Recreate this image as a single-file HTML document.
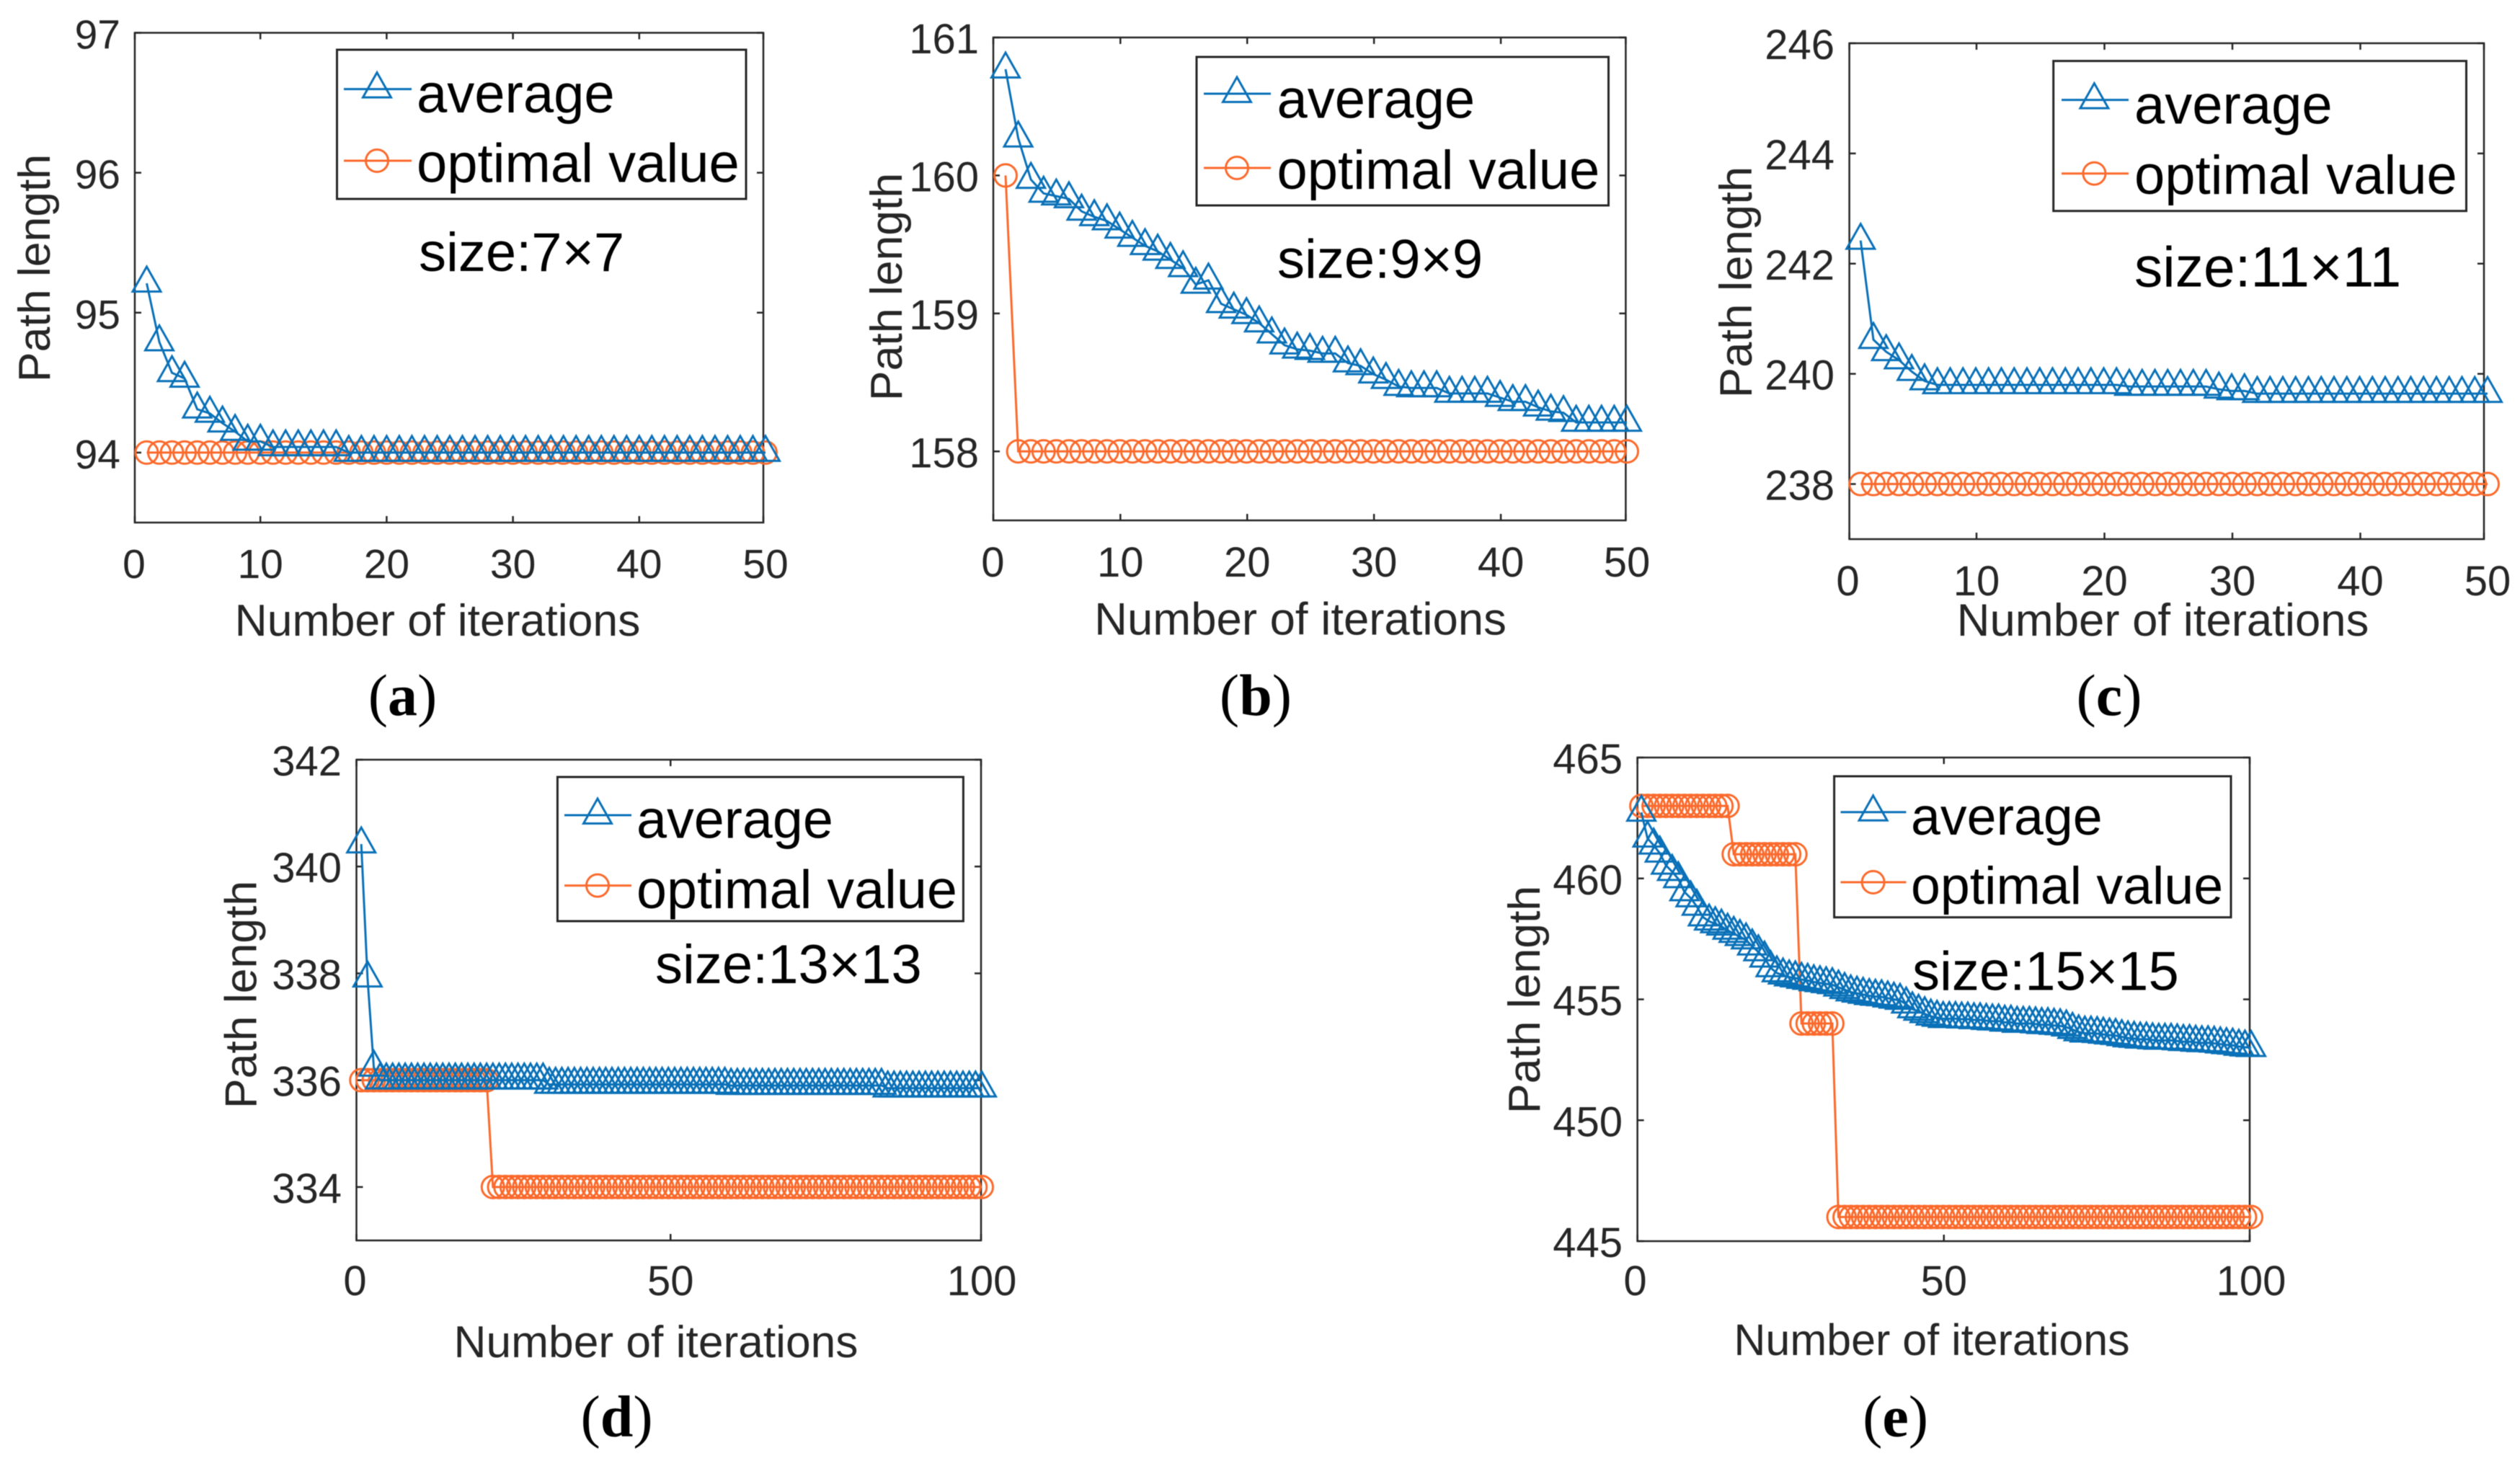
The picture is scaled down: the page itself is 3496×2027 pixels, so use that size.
<!DOCTYPE html>
<html lang="en">
<head>
<meta charset="utf-8">
<title>Path length versus number of iterations</title>
<style>
html,body{margin:0;padding:0;background:#fff;}
svg{display:block;filter:blur(0.6px);}
text{font-family:"Liberation Sans",Arial,sans-serif;}
.title{font-size:62.5px;fill:#262626;}
.leg{font-size:76px;fill:#000;}
.cap{font-family:"Liberation Serif",serif;font-size:82px;fill:#000;text-anchor:middle;}
.cap tspan{font-weight:bold;}
.box{fill:#fff;stroke:#262626;stroke-width:3;}
.blue{fill:none;stroke:#0a71b8;stroke-width:3;}
.orange{fill:none;stroke:#fb6a2c;stroke-width:3;}
</style>
</head>
<body>
<svg id="figure" xmlns="http://www.w3.org/2000/svg" width="3496" height="2027" viewBox="0 0 3496 2027">
<rect width="3496" height="2027" fill="#fff"/>

<g id="panel-a">
  <g class="plot"></g>
  <text class="title" x="607" y="882" text-anchor="middle">Number of iterations</text>
  <text class="title" text-anchor="middle" transform="translate(69 372) rotate(-90)">Path length</text>
  <g>
    <rect class="box" x="467.5" y="69" width="567.5" height="207"/>
    <line class="blue" x1="477" x2="571" y1="123.6" y2="123.6"/>
    <polygon class="blue" points="523,100.6 542.5,135.1 503.5,135.1"/>
    <text class="leg" x="578" y="156">average</text>
    <line class="orange" x1="477" x2="571" y1="223" y2="223"/>
    <circle class="orange" cx="523" cy="223" r="15.5"/>
    <text class="leg" x="578" y="252.5">optimal value</text>
  </g>
  <text class="leg" x="581" y="376">size:7×7</text>
  <text class="cap" x="558.5" y="992">(<tspan>a</tspan>)</text>
</g>

<g id="panel-b">
  <g class="plot"></g>
  <text class="title" x="1804" y="880.5" text-anchor="middle" style="font-size:63.5px">Number of iterations</text>
  <text class="title" text-anchor="middle" transform="translate(1251 398) rotate(-90)">Path length</text>
  <g>
    <rect class="box" x="1660" y="79" width="571.5" height="206"/>
    <line class="blue" x1="1670" x2="1763" y1="130" y2="130"/>
    <polygon class="blue" points="1716,107 1735.5,141.5 1696.5,141.5"/>
    <text class="leg" x="1771.5" y="163.5">average</text>
    <line class="orange" x1="1670" x2="1763" y1="233" y2="233"/>
    <circle class="orange" cx="1716" cy="233" r="15.5"/>
    <text class="leg" x="1771.5" y="262">optimal value</text>
  </g>
  <text class="leg" x="1772" y="385.5">size:9×9</text>
  <text class="cap" x="1742" y="992">(<tspan>b</tspan>)</text>
</g>

<g id="panel-c">
  <g class="plot"></g>
  <text class="title" x="3000.5" y="882" text-anchor="middle" style="font-size:63.5px">Number of iterations</text>
  <text class="title" text-anchor="middle" transform="translate(2430 391.6) rotate(-90)" style="font-size:63.5px">Path length</text>
  <g>
    <rect class="box" x="2848.7" y="84.6" width="572.8" height="208.1"/>
    <line class="blue" x1="2860" x2="2953" y1="138.6" y2="138.6"/>
    <polygon class="blue" points="2905.4,115.6 2924.9,150.1 2885.9,150.1"/>
    <text class="leg" x="2961" y="171.5">average</text>
    <line class="orange" x1="2860" x2="2953" y1="240.7" y2="240.7"/>
    <circle class="orange" cx="2905.4" cy="240.7" r="15.5"/>
    <text class="leg" x="2961" y="269">optimal value</text>
  </g>
  <text class="leg" x="2961" y="397.5" style="font-size:78.5px">size:11×11</text>
  <text class="cap" x="2926" y="992">(<tspan>c</tspan>)</text>
</g>

<g id="panel-d">
  <g class="plot"></g>
  <text class="title" x="910" y="1883" text-anchor="middle" style="font-size:62.3px">Number of iterations</text>
  <text class="title" text-anchor="middle" transform="translate(355.5 1380) rotate(-90)">Path length</text>
  <g>
    <rect class="box" x="773.4" y="1078" width="563" height="200"/>
    <line class="blue" x1="783" x2="876" y1="1131" y2="1131"/>
    <polygon class="blue" points="829,1108 848.5,1142.5 809.5,1142.5"/>
    <text class="leg" x="883" y="1162.5" style="font-size:75.5px">average</text>
    <line class="orange" x1="783" x2="876" y1="1228.6" y2="1228.6"/>
    <circle class="orange" cx="829" cy="1228.6" r="15.5"/>
    <text class="leg" x="883" y="1260" style="font-size:75.5px">optimal value</text>
  </g>
  <text class="leg" x="909" y="1364">size:13×13</text>
  <text class="cap" x="855.6" y="1992.6">(<tspan>d</tspan>)</text>
</g>

<g id="panel-e">
  <g class="plot"></g>
  <text class="title" x="2680" y="1880" text-anchor="middle" style="font-size:61px">Number of iterations</text>
  <text class="title" text-anchor="middle" transform="translate(2136 1387) rotate(-90)">Path length</text>
  <g>
    <rect class="box" x="2544.6" y="1077" width="550.4" height="195.7"/>
    <line class="blue" x1="2553.5" x2="2644.4" y1="1126.7" y2="1126.7"/>
    <polygon class="blue" points="2598.6,1103.7 2618.1,1138.2 2579.1,1138.2"/>
    <text class="leg" x="2651" y="1158" style="font-size:73.5px">average</text>
    <line class="orange" x1="2553.5" x2="2644.4" y1="1224" y2="1224"/>
    <circle class="orange" cx="2598.6" cy="1224" r="15.5"/>
    <text class="leg" x="2651" y="1254" style="font-size:73.5px">optimal value</text>
  </g>
  <text class="leg" x="2653" y="1373.5">size:15×15</text>
  <text class="cap" x="2629.6" y="1992.6">(<tspan>e</tspan>)</text>
</g>
</svg>

<script>
// ---- data ----
const xTicksA = [0, 10, 20, 30, 40, 50];
const yTicksA = [94, 95, 96, 97];
const averageA = [
  95.21, 94.79, 94.57, 94.53, 94.31, 94.28, 94.21, 94.15, 94.08, 94.08,
  94.04, 94.04, 94.04, 94.04, 94.04, 94.04, 94, 94, 94, 94,
  94, 94, 94, 94, 94, 94, 94, 94, 94, 94,
  94, 94, 94, 94, 94, 94, 94, 94, 94, 94,
  94, 94, 94, 94, 94, 94, 94, 94, 94, 94];
const optimalA = [
  94, 94, 94, 94, 94, 94, 94, 94, 94, 94,
  94, 94, 94, 94, 94, 94, 94, 94, 94, 94,
  94, 94, 94, 94, 94, 94, 94, 94, 94, 94,
  94, 94, 94, 94, 94, 94, 94, 94, 94, 94,
  94, 94, 94, 94, 94, 94, 94, 94, 94, 94];

const xTicksB = [0, 10, 20, 30, 40, 50];
const yTicksB = [158, 159, 160, 161];
const averageB = [
  160.77, 160.27, 159.97, 159.87, 159.85, 159.83, 159.74, 159.70, 159.67, 159.61,
  159.55, 159.49, 159.45, 159.39, 159.33, 159.21, 159.24, 159.07, 159.03, 158.99,
  158.93, 158.85, 158.77, 158.74, 158.73, 158.71, 158.71, 158.64, 158.62, 158.56,
  158.52, 158.47, 158.46, 158.46, 158.46, 158.42, 158.42, 158.42, 158.42, 158.39,
  158.36, 158.36, 158.32, 158.29, 158.28, 158.21, 158.21, 158.21, 158.21, 158.21];
const optimalB = [
  160, 158, 158, 158, 158, 158, 158, 158, 158, 158,
  158, 158, 158, 158, 158, 158, 158, 158, 158, 158,
  158, 158, 158, 158, 158, 158, 158, 158, 158, 158,
  158, 158, 158, 158, 158, 158, 158, 158, 158, 158,
  158, 158, 158, 158, 158, 158, 158, 158, 158, 158];

const xTicksC = [0, 10, 20, 30, 40, 50];
const yTicksC = [238, 240, 242, 244, 246];
const averageC = [
  242.42, 240.62, 240.40, 240.25, 240.04, 239.87, 239.80, 239.80, 239.80, 239.80,
  239.80, 239.80, 239.80, 239.80, 239.80, 239.80, 239.80, 239.80, 239.80, 239.80,
  239.80, 239.77, 239.77, 239.77, 239.77, 239.77, 239.77, 239.77, 239.72, 239.69,
  239.69, 239.64, 239.64, 239.64, 239.64, 239.64, 239.64, 239.64, 239.64, 239.64,
  239.64, 239.64, 239.64, 239.64, 239.64, 239.64, 239.64, 239.64, 239.64, 239.64];
const optimalC = [
  238, 238, 238, 238, 238, 238, 238, 238, 238, 238,
  238, 238, 238, 238, 238, 238, 238, 238, 238, 238,
  238, 238, 238, 238, 238, 238, 238, 238, 238, 238,
  238, 238, 238, 238, 238, 238, 238, 238, 238, 238,
  238, 238, 238, 238, 238, 238, 238, 238, 238, 238];

const xTicksD = [0, 50, 100];
const yTicksD = [334, 336, 338, 340, 342];
const averageD = [
  340.42, 337.91, 336.24, 336, 336, 336, 336, 336, 336, 336,
  336, 336, 336, 336, 336, 336, 336, 336, 336, 336,
  336, 336, 336, 336, 336, 336, 336, 336, 336, 336,
  335.92, 335.92, 335.92, 335.92, 335.92, 335.92, 335.92, 335.92, 335.92, 335.92,
  335.92, 335.92, 335.92, 335.92, 335.92, 335.92, 335.92, 335.92, 335.92, 335.92,
  335.92, 335.92, 335.92, 335.92, 335.92, 335.92, 335.92, 335.92, 335.92, 335.90,
  335.90, 335.90, 335.90, 335.90, 335.90, 335.90, 335.90, 335.90, 335.90, 335.90,
  335.90, 335.90, 335.90, 335.90, 335.90, 335.90, 335.90, 335.90, 335.90, 335.90,
  335.90, 335.90, 335.90, 335.90, 335.85, 335.85, 335.85, 335.85, 335.85, 335.85,
  335.85, 335.85, 335.85, 335.85, 335.85, 335.85, 335.85, 335.85, 335.85, 335.85];
const optimalD = [
  336, 336, 336, 336, 336, 336, 336, 336, 336, 336,
  336, 336, 336, 336, 336, 336, 336, 336, 336, 336,
  336, 334, 334, 334, 334, 334, 334, 334, 334, 334,
  334, 334, 334, 334, 334, 334, 334, 334, 334, 334,
  334, 334, 334, 334, 334, 334, 334, 334, 334, 334,
  334, 334, 334, 334, 334, 334, 334, 334, 334, 334,
  334, 334, 334, 334, 334, 334, 334, 334, 334, 334,
  334, 334, 334, 334, 334, 334, 334, 334, 334, 334,
  334, 334, 334, 334, 334, 334, 334, 334, 334, 334,
  334, 334, 334, 334, 334, 334, 334, 334, 334, 334];

const xTicksE = [0, 50, 100];
const yTicksE = [445, 450, 455, 460, 465];
const averageE = [
  462.73, 461.66, 461.37, 461.04, 460.54, 460.28, 459.98, 459.44, 459.19, 458.84,
  458.40, 458.23, 458.12, 458.02, 457.85, 457.72, 457.59, 457.45, 457.20, 456.96,
  456.70, 456.30, 456.09, 456.00, 455.92, 455.88, 455.82, 455.78, 455.72, 455.68,
  455.64, 455.60, 455.50, 455.40, 455.30, 455.25, 455.20, 455.15, 455.12, 455.10,
  455.05, 455.00, 454.95, 454.80, 454.60, 454.50, 454.40, 454.30, 454.25, 454.20,
  454.20, 454.20, 454.18, 454.18, 454.15, 454.15, 454.12, 454.10, 454.10, 454.05,
  454.05, 454.00, 454.00, 454.00, 453.98, 453.95, 453.95, 453.92, 453.90, 453.85,
  453.75, 453.65, 453.60, 453.60, 453.58, 453.55, 453.52, 453.50, 453.45, 453.40,
  453.38, 453.35, 453.35, 453.32, 453.30, 453.30, 453.30, 453.28, 453.25, 453.25,
  453.22, 453.20, 453.20, 453.18, 453.15, 453.12, 453.10, 453.05, 453.02, 453.00];
const optimalE = [
  463, 463, 463, 463, 463, 463, 463, 463, 463, 463,
  463, 463, 463, 463, 463, 461, 461, 461, 461, 461,
  461, 461, 461, 461, 461, 461, 454, 454, 454, 454,
  454, 454, 446, 446, 446, 446, 446, 446, 446, 446,
  446, 446, 446, 446, 446, 446, 446, 446, 446, 446,
  446, 446, 446, 446, 446, 446, 446, 446, 446, 446,
  446, 446, 446, 446, 446, 446, 446, 446, 446, 446,
  446, 446, 446, 446, 446, 446, 446, 446, 446, 446,
  446, 446, 446, 446, 446, 446, 446, 446, 446, 446,
  446, 446, 446, 446, 446, 446, 446, 446, 446, 446];

// ---- layout ----
const panelA = {id:'a', xTicks:xTicksA, yTicks:yTicksA, average:averageA, optimal:optimalA, xMax:50, midShift:0,
  yMin:93.5, yMax:97, left:187, right:1059, top:45.5, bottom:725, x0:186, x1:1062, font:57, labelRight:167, xBase:802};
const panelB = {id:'b', xTicks:xTicksB, yTicks:yTicksB, average:averageB, optimal:optimalB, xMax:50, midShift:1,
  yMin:157.5, yMax:161, left:1378, right:2255.4, top:52, bottom:722, x0:1377.4, x1:2257, font:58, labelRight:1358, xBase:800};
const panelC = {id:'c', xTicks:xTicksC, yTicks:yTicksC, average:averageC, optimal:optimalC, xMax:50, midShift:1,
  yMin:237, yMax:246, left:2565.6, right:3446, top:60, bottom:748, x0:2563.5, x1:3451, font:58, labelRight:2545, xBase:826};
const panelD = {id:'d', xTicks:xTicksD, yTicks:yTicksD, average:averageD, optimal:optimalD, xMax:100, midShift:3,
  yMin:333, yMax:342, left:494.5, right:1361, top:1054, bottom:1721, x0:492.5, x1:1362, font:58, labelRight:474, xBase:1797};
const panelE = {id:'e', xTicks:xTicksE, yTicks:yTicksE, average:averageE, optimal:optimalE, xMax:100, midShift:1,
  yMin:445, yMax:465, left:2271.6, right:3121, top:1051, bottom:1722, x0:2268.5, x1:3123, font:58, labelRight:2251, xBase:1797};

const SVG_NS = 'http://www.w3.org/2000/svg';
function mk(parent, tag, attrs) {
  const el = document.createElementNS(SVG_NS, tag);
  for (const k in attrs) el.setAttribute(k, attrs[k]);
  parent.appendChild(el);
  return el;
}

function drawPanel(p) {
  const plot = document.querySelector('#panel-' + p.id + ' .plot');
  const sx = function (v) { return p.x0 + (v / p.xMax) * (p.x1 - p.x0); };
  const sy = function (v) { return p.bottom - (v - p.yMin) / (p.yMax - p.yMin) * (p.bottom - p.top); };

  const frame = mk(plot, 'rect', {x:p.left, y:p.top, width:p.right - p.left, height:p.bottom - p.top, fill:'#fff', stroke:'#262626', 'stroke-width':2.5});
  
  

  p.xTicks.forEach(function (t, i) {
    const isEnd = i === 0 || i === p.xTicks.length - 1;
    const lx = sx(t) + (isEnd ? 0 : p.midShift);
    const x = Math.min(p.right, Math.max(p.left, lx));
    const tb = mk(plot, 'line', {x1:x, x2:x, y1:p.bottom, y2:p.bottom - 9, stroke:'#262626', 'stroke-width':2.5});
    
    
    const tt = mk(plot, 'line', {x1:x, x2:x, y1:p.top, y2:p.top + 9, stroke:'#262626', 'stroke-width':2.5});
    
    
    const lab = mk(plot, 'text', {x:lx, y:p.xBase, 'text-anchor':'middle', 'font-size':p.font, fill:'#262626'});
    lab.textContent = String(t);
    
    
  });

  p.yTicks.forEach(function (t) {
    const y = sy(t);
    const tl = mk(plot, 'line', {x1:p.left, x2:p.left + 9, y1:y, y2:y, stroke:'#262626', 'stroke-width':2.5});
    
    
    const tr = mk(plot, 'line', {x1:p.right, x2:p.right - 9, y1:y, y2:y, stroke:'#262626', 'stroke-width':2.5});
    
    
    const lab = mk(plot, 'text', {x:p.labelRight, y:y + 22, 'text-anchor':'end', 'font-size':p.font, fill:'#262626'});
    lab.textContent = String(t);
    
    
  });

  const optLine = mk(plot, 'polyline', {'class':'orange', points:p.optimal.map(function (v, i) { return sx(i + 1) + ',' + sy(v); }).join(' ')});
  
  
  p.optimal.forEach(function (v, i) {
    const c = mk(plot, 'circle', {'class':'orange', cx:sx(i + 1), cy:sy(v), r:15.5});
    
    
  });

  const avgLine = mk(plot, 'polyline', {'class':'blue', points:p.average.map(function (v, i) { return sx(i + 1) + ',' + sy(v); }).join(' ')});
  
  
  p.average.forEach(function (v, i) {
    const cx = sx(i + 1), cy = sy(v);
    const tri = mk(plot, 'polygon', {'class':'blue', points:cx + ',' + (cy - 23) + ' ' + (cx + 19.5) + ',' + (cy + 11.5) + ' ' + (cx - 19.5) + ',' + (cy + 11.5)});
    
    
  });
}

[panelA, panelB, panelC, panelD, panelE].forEach(drawPanel);
</script>
</body>
</html>
